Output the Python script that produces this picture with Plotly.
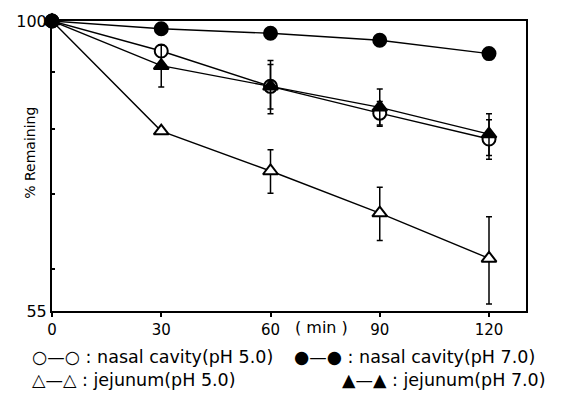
import math
import plotly.graph_objects as go

# ---- data ----
time_min = [0, 30, 60, 90, 120]
nasal_ph5 = [100, 94.0, 87.4, 82.7, 78.4]
nasal_ph5_err = [0, 1.2, 4.0, 2.0, 3.2]
nasal_ph7 = [100, 98.4, 97.5, 96.1, 93.5]
jejunum_ph5 = [100, 79.7, 73.4, 67.3, 61.3]
jejunum_ph5_err = [0, 0, 3.3, 3.7, 5.5]
jejunum_ph7 = [100, 91.2, 87.4, 83.7, 79.2]
jejunum_ph7_err = [0, 3.9, 4.8, 3.2, 3.4]

x_ticks = [0, 30, 60, 90, 120]
y_tickvals = [55, 60, 70, 80, 90, 100]
y_ticktext = ["55", "", "", "", "", "100"]

legend_rows = [
    ("○—○ : nasal cavity(pH 5.0)", 30, 358),
    ("●—● : nasal cavity(pH 7.0)", 292, 358),
    ("△—△ : jejunum(pH 5.0)", 30, 381),
    ("▲—▲ : jejunum(pH 7.0)", 340, 381),
]

FONT = "DejaVu Sans"
W, H = 562, 399
L, R, T, B = 52, 36, 16, 88
PW, PH = W - L - R, H - T - B

fig = go.Figure()

def add(y, err, symbol, filled, name):
    eb = None
    if err is not None:
        eb = dict(type="data", array=err, visible=True, color="black",
                  thickness=1.5, width=3)
    fig.add_trace(go.Scatter(
        x=time_min, y=y, mode="lines+markers", name=name,
        line=dict(color="black", width=1.4),
        marker=dict(symbol=symbol, size=13,
                    color="black" if filled else "white",
                    line=dict(color="black", width=2)),
        error_y=eb, cliponaxis=False, showlegend=False,
    ))

add(nasal_ph5, nasal_ph5_err, "circle", False, "nasal cavity(pH 5.0)")
add(nasal_ph7, None, "circle", True, "nasal cavity(pH 7.0)")
add(jejunum_ph5, jejunum_ph5_err, "triangle-up", False, "jejunum(pH 5.0)")
add(jejunum_ph7, jejunum_ph7_err, "triangle-up", True, "jejunum(pH 7.0)")

x_max = 120 * PW / 437.0

fig.update_xaxes(range=[0, x_max], tickvals=x_ticks, ticktext=[str(v) for v in x_ticks],
                 showline=True, linecolor="black", linewidth=2, mirror=True,
                 ticks="outside", ticklen=4, tickwidth=1.5, tickcolor="black",
                 showgrid=False, zeroline=False,
                 tickfont=dict(family=FONT, size=15, color="black"))
fig.update_yaxes(type="log", range=[math.log10(55), math.log10(100)],
                 tickvals=y_tickvals, ticktext=y_ticktext,
                 showline=True, linecolor="black", linewidth=2, mirror=True,
                 ticks="inside", ticklen=3, tickwidth=1.5, tickcolor="black",
                 showgrid=False, zeroline=False,
                 tickfont=dict(family=FONT, size=16, color="black"))

ann = []
ann.append(dict(text="% Remaining", textangle=-90, xref="paper", yref="paper",
                x=(20 - L) / PW, y=(T + PH - 150) / PH, showarrow=False,
                font=dict(family=FONT, size=14, color="black")))
ann.append(dict(text="( min )", xref="x", yref="paper", x=74, y=0, yanchor="top",
                yshift=-5, showarrow=False,
                font=dict(family=FONT, size=16, color="black")))
for txt, px, py in legend_rows:
    ann.append(dict(text=txt, xref="paper", yref="paper", x=(px - L) / PW,
                    y=(T + PH - py) / PH, xanchor="left", yanchor="middle",
                    showarrow=False, font=dict(family=FONT, size=17.5, color="black")))

fig.update_layout(width=W, height=H, margin=dict(l=L, r=R, t=T, b=B),
                  paper_bgcolor="white", plot_bgcolor="white",
                  annotations=ann, font=dict(family=FONT, color="black"))

fig.write_html("out.html")
